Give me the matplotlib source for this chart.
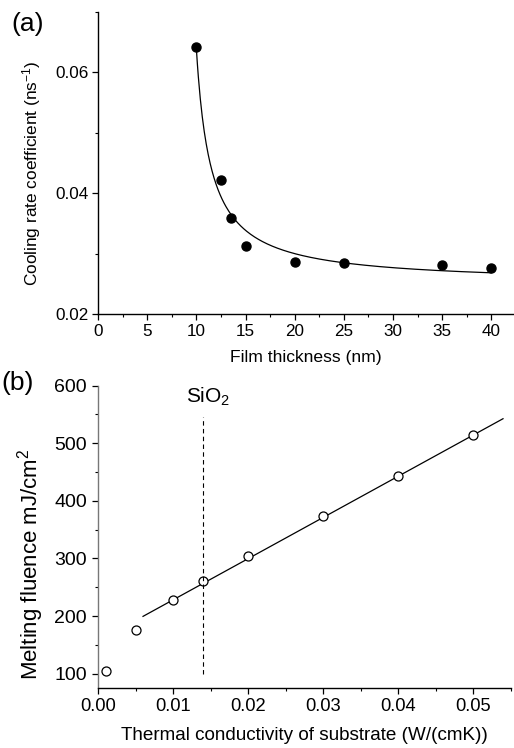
import numpy as np
import matplotlib
matplotlib.use("Agg")
import matplotlib.pyplot as plt
from matplotlib.ticker import MultipleLocator

plt.rcParams['font.family'] = ['Liberation Sans', 'DejaVu Sans']
plt.rcParams['mathtext.fontset'] = 'custom'
plt.rcParams['mathtext.rm'] = 'Liberation Sans'
plt.rcParams['mathtext.it'] = 'Liberation Sans:italic'

# (a) cooling rate vs film thickness
thick = [10, 12.5, 13.5, 15, 20, 25, 35, 40]
rate = [0.0642, 0.0422, 0.0359, 0.0313, 0.0286, 0.0284, 0.0281, 0.0276]
# hyperbolic fit y = y0 + A / (x - x0)
fit_y0, fit_A, fit_x0 = 0.025, 0.0573, 8.53

# (b) melting fluence vs substrate conductivity
cond = [0.001, 0.005, 0.010, 0.014, 0.020, 0.030, 0.040, 0.050]
fluence = [104, 176, 228, 261, 305, 373, 443, 514]
lin_slope, lin_icpt = 7150, 156.5
line_range = [0.006, 0.054]
sio2_k = 0.014

fig = plt.figure(figsize=(5.14, 7.48), dpi=100)

ax1 = fig.add_axes([0.1907, 0.5802, 0.8073, 0.4038])
xf = np.linspace(10, 40, 300)
ax1.plot(xf, fit_y0 + fit_A / (xf - fit_x0), color='black', lw=0.9)
ax1.plot(thick, rate, 'o', color='black', ms=6.5)
ax1.set_xlim(0, 42.2)
ax1.set_ylim(0.02, 0.070)
ax1.xaxis.set_major_locator(MultipleLocator(5))
ax1.xaxis.set_minor_locator(MultipleLocator(2.5))
ax1.yaxis.set_minor_locator(MultipleLocator(0.01))
ax1.set_yticks([0.02, 0.04, 0.06])
ax1.set_yticklabels(['0.02', '0.04', '0.06'])
ax1.tick_params(which='major', labelsize=12.3, pad=3)
ax1.set_xlabel('Film thickness (nm)', fontsize=12.6, va='top')
ax1.xaxis.set_label_coords(0.5, -0.118)
ax1.set_ylabel('Cooling rate coefficient (ns$^{-1}$)', fontsize=12.4)
ax1.yaxis.set_label_coords(-0.1325, 0.467)

ax2 = fig.add_axes([0.1907, 0.0802, 0.8025, 0.4042])
ax2.plot(line_range, [lin_icpt + lin_slope * v for v in line_range], color='black', lw=0.9)
ax2.plot(cond, fluence, 'o', mfc='white', mec='black', mew=0.9, ms=6.5)
ax2.plot([sio2_k, sio2_k], [100, 546], color='black', lw=0.8, ls=(0, (4, 3)))
ax2.annotate('SiO$_2$', xy=(sio2_k, 580), xytext=(3.6, 0), textcoords='offset points',
             ha='center', va='center', fontsize=15)
ax2.set_xlim(0, 0.055)
ax2.set_ylim(75, 600)
ax2.xaxis.set_minor_locator(MultipleLocator(0.005))
ax2.yaxis.set_minor_locator(MultipleLocator(50))
ax2.set_xticks([0, 0.01, 0.02, 0.03, 0.04, 0.05])
ax2.set_xticklabels(['0.00', '0.01', '0.02', '0.03', '0.04', '0.05'])
ax2.set_yticks([100, 200, 300, 400, 500, 600])
ax2.tick_params(axis='x', which='major', labelsize=13.2, pad=3)
ax2.tick_params(axis='y', which='major', labelsize=14, pad=4)
ax2.set_xlabel('Thermal conductivity of substrate (W/(cmK))', fontsize=13.6, va='top')
ax2.xaxis.set_label_coords(0.5, -0.128)
ax2.set_ylabel('Melting fluence mJ/cm$^2$', fontsize=16)
ax2.yaxis.set_label_coords(-0.126, 0.409)
ax2.spines['left'].set_color('#777777')

for ax in (ax1, ax2):
    ax.spines['top'].set_visible(False)
    ax.spines['right'].set_visible(False)
    ax.spines['left'].set_linewidth(1.0)
    ax.spines['bottom'].set_linewidth(1.0)
    ax.tick_params(which='major', direction='out', length=4, width=0.9)
    ax.tick_params(which='minor', direction='out', length=2.5, width=0.8)

fig.text(0.022, 0.984, '(a)', fontsize=19, va='top', ha='left')
fig.text(0.002, 0.504, '(b)', fontsize=19, va='top', ha='left')

fig.savefig('out.png', dpi=100)
